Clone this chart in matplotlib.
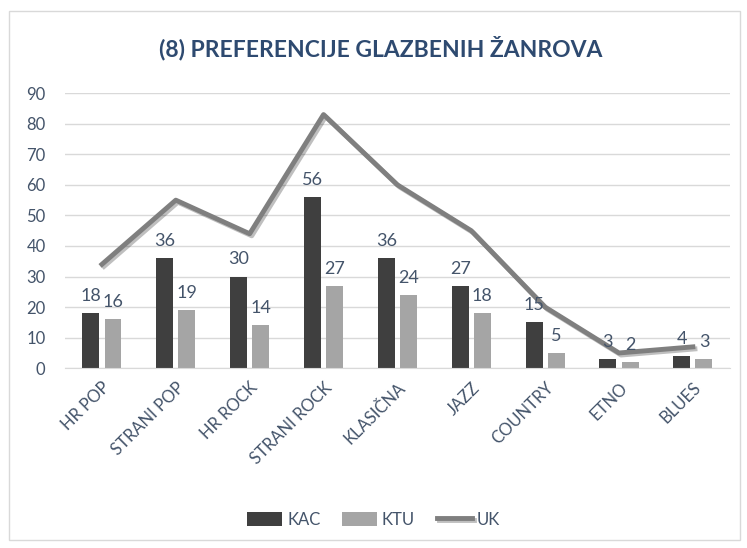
import numpy as np
import matplotlib.pyplot as plt
from matplotlib.patches import Rectangle
import matplotlib.patheffects as pe
import matplotlib.transforms as mtransforms

plt.rcParams['font.family'] = ['Lato', 'DejaVu Sans']

genres = ["HR POP", "STRANI POP", "HR ROCK", "STRANI ROCK", "KLASIČNA",
          "JAZZ", "COUNTRY", "ETNO", "BLUES"]
kac = [18, 36, 30, 56, 36, 27, 15, 3, 4]
ktu = [16, 19, 14, 27, 24, 18, 5, 2, 3]
uk = [34, 55, 44, 83, 60, 45, 20, 5, 7]

text_col = '#44546a'
fig = plt.figure(figsize=(7.47, 5.48), dpi=100)
fig.patches.append(Rectangle((0.012, 0.015), 0.978, 0.965, transform=fig.transFigure,
                             fill=False, edgecolor='#d9d9d9', linewidth=1))
ax = fig.add_axes([0.087, 0.328, 0.89, 0.502])

x = np.arange(len(genres))
w = 0.23
b1 = ax.bar(x - 0.15, kac, w, color='#3f3f3f', label='KAC', zorder=2)
b2 = ax.bar(x + 0.15, ktu, w, color='#a5a5a5', label='KTU', zorder=2)
ax.plot(x, uk, color='#7f7f7f', linewidth=3.5, label='UK', zorder=3,
        path_effects=[pe.SimpleLineShadow(offset=(1.5, -1.5), alpha=0.25), pe.Normal()])

for xi, v in zip(x, kac):
    ax.text(xi - 0.15, v + 3, str(v), ha='center', va='bottom', fontsize=13, color=text_col)
for xi, v in zip(x, ktu):
    ax.text(xi + 0.15, v + 3, str(v), ha='center', va='bottom', fontsize=13, color=text_col)

ax.set_ylim(0, 90)
ax.set_yticks(range(0, 91, 10))
ax.set_xlim(-0.5, len(genres) - 0.5)
ax.set_xticks(x)
ax.set_xticklabels(genres, rotation=45, ha='right', rotation_mode='anchor')
offset = mtransforms.ScaledTranslation(0.1, 0, fig.dpi_scale_trans)
for lab in ax.get_xticklabels():
    lab.set_transform(lab.get_transform() + offset)
ax.tick_params(axis='x', length=0, labelsize=12, colors=text_col, pad=8)
ax.tick_params(axis='y', length=0, labelsize=12, colors=text_col, pad=14)
ax.grid(axis='y', color='#d9d9d9', linewidth=1, zorder=0)
for s in ['top', 'right', 'left']:
    ax.spines[s].set_visible(False)
ax.spines['bottom'].set_color('#d9d9d9')

fig.text(0.51, 0.912, "(8) PREFERENCIJE GLAZBENIH ŽANROVA", ha='center', va='center',
         fontsize=16.5, fontweight='bold', color='#2e4a70')

fig.legend(handles=[b1, b2, ax.lines[0]], labels=['KAC', 'KTU', 'UK'], loc='center',
           bbox_to_anchor=(0.5, 0.052), ncol=3, frameon=False, fontsize=12,
           labelcolor=text_col, handlelength=2.1, handleheight=0.9,
           columnspacing=1.3, handletextpad=0.3)

fig.savefig('out.png', dpi=100)
